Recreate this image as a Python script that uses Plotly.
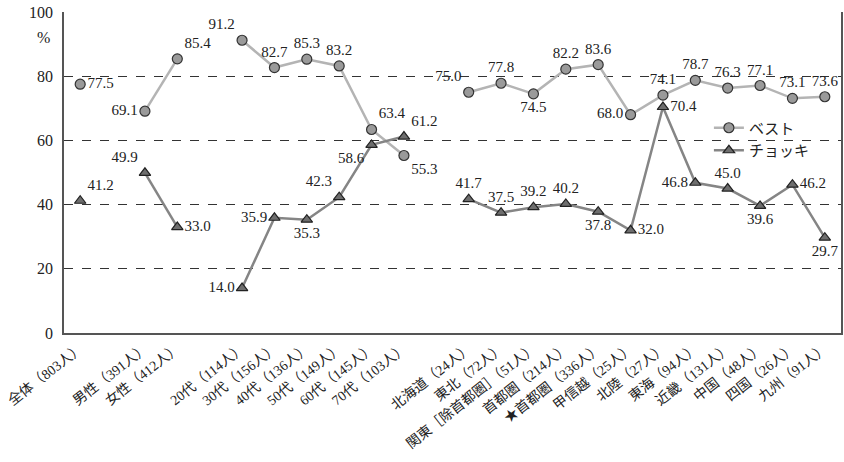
import plotly.graph_objects as go

# Groups of categories (gaps inserted between groups)
groups = [
    ["全体（803人）"],
    ["男性（391人）", "女性（412人）"],
    ["20代（114人）", "30代（156人）", "40代（136人）", "50代（149人）", "60代（145人）", "70代（103人）"],
    ["北海道（24人）", "東北（72人）", "関東［除首都圏］（51人）", "首都圏（214人）", "★首都圏（336人）",
     "甲信越（25人）", "北陸（27人）", "東海（94人）", "近畿（131人）", "中国（48人）", "四国（26人）", "九州（91人）"],
]

best = [[77.5], [69.1, 85.4], [91.2, 82.7, 85.3, 83.2, 63.4, 55.3],
        [75.0, 77.8, 74.5, 82.2, 83.6, 68.0, 74.1, 78.7, 76.3, 77.1, 73.1, 73.6]]
chokki = [[41.2], [49.9, 33.0], [14.0, 35.9, 35.3, 42.3, 58.6, 61.2],
          [41.7, 37.5, 39.2, 40.2, 37.8, 32.0, 70.4, 46.8, 45.0, 39.6, 46.2, 29.7]]

best_pos = [["middle right"], ["middle left", "top right"],
            ["top left", "top center", "top center", "top center", "top right", "bottom right"],
            ["top left", "top center", "bottom center", "top center", "top center", "middle left",
             "top center", "top center", "top center", "top center", "top center", "top center"]]
chokki_pos = [["top right"], ["top left", "middle right"],
              ["middle left", "middle left", "bottom center", "top left", "bottom left", "top right"],
              ["top center", "top center", "top center", "top center", "bottom center", "middle right",
               "middle right", "middle left", "top center", "bottom center", "middle right", "bottom center"]]

FONT = "Liberation Serif, Noto Sans CJK JP, serif"

fig = go.Figure()

tickvals, ticktext = [], []
pos = 0
for gi, g in enumerate(groups):
    xs = list(range(pos, pos + len(g)))
    tickvals += xs
    ticktext += g
    fig.add_trace(go.Scatter(
        x=xs, y=best[gi], mode="lines+markers+text", name="ベスト",
        text=[f"{v:.1f}" for v in best[gi]], textposition=best_pos[gi],
        textfont=dict(family=FONT, size=15, color="#222"),
        line=dict(color="#b4b4b4", width=2.5),
        marker=dict(symbol="circle", size=10, color="#9a9a9a", line=dict(color="#333", width=1.2)),
        showlegend=(gi == 0), legendgroup="best", cliponaxis=False))
    fig.add_trace(go.Scatter(
        x=xs, y=chokki[gi], mode="lines+markers+text", name="チョッキ",
        text=[f"{v:.1f}" for v in chokki[gi]], textposition=chokki_pos[gi],
        textfont=dict(family=FONT, size=15, color="#222"),
        line=dict(color="#858585", width=2.5),
        marker=dict(symbol="triangle-up", size=10, color="#6e6e6e", line=dict(color="#222", width=1.2)),
        showlegend=(gi == 0), legendgroup="chokki", cliponaxis=False))
    pos += len(g) + 1

fig.update_layout(
    width=844, height=462,
    margin=dict(l=64, r=3, t=12, b=129),
    paper_bgcolor="white", plot_bgcolor="white",
    font=dict(family=FONT, size=14, color="#222"),
    showlegend=True,
    legend=dict(x=0.83, y=0.69, xanchor="left", yanchor="top",
                bgcolor="rgba(0,0,0,0)", font=dict(size=15, family=FONT),
                tracegroupgap=0, itemwidth=30),
    xaxis=dict(range=[-0.5, pos - 1.5], tickvals=tickvals, ticktext=ticktext,
               tickangle=-38, tickfont=dict(size=14, family=FONT),
               showgrid=False, zeroline=False, showline=True, linecolor="#555", linewidth=1.5,
               ticks="", automargin=False),
    yaxis=dict(range=[0, 100], tickvals=[0, 20, 40, 60, 80, 100],
               tickfont=dict(size=16, family=FONT), ticklabelstandoff=6,
               showgrid=True, gridcolor="#333", griddash="dash", gridwidth=1,
               zeroline=False, showline=True, linecolor="#555", linewidth=1.5,
               mirror=True, ticks="", automargin=False),
)
fig.add_annotation(text="%", x=0, xref="paper", xanchor="right", xshift=-12,
                   y=92, yref="y", showarrow=False, font=dict(size=16, family=FONT))

fig.write_html("out.html", config={"displayModeBar": False},
               post_script="document.body.style.margin='0px';")
